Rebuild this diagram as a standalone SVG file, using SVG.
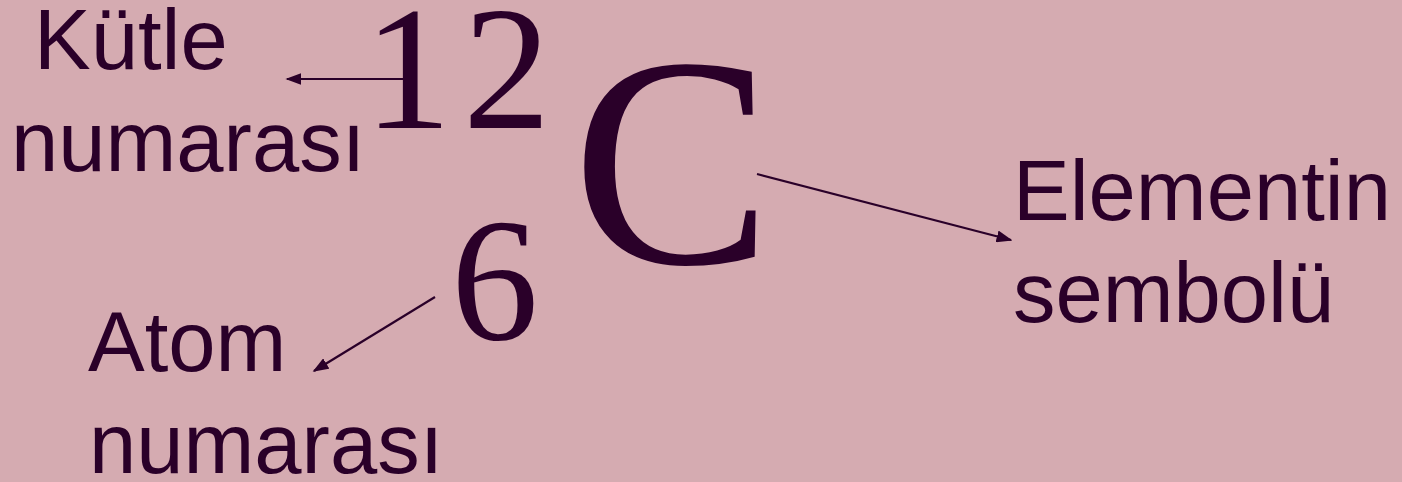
<svg xmlns="http://www.w3.org/2000/svg" width="1402" height="482" viewBox="0 0 1402 482">
  <style>
    .lbl { font-family: "Liberation Sans", Arial, sans-serif; font-size: 85px; fill: #2a0029; }
    .sym { font-family: "Liberation Serif", "Times New Roman", serif; fill: #2a0029; }
    .conn { stroke: #2a0029; stroke-width: 2.2; fill: none; marker-end: url(#ah); }
  </style>
  <defs>
    <marker id="ah" viewBox="0 0 10 10" refX="9" refY="5" markerWidth="16" markerHeight="12" markerUnits="userSpaceOnUse" orient="auto" preserveAspectRatio="none">
      <path d="M0,0 L10,5 L0,10 Z" fill="#2a0029"/>
    </marker>
  </defs>
  <rect width="1402" height="482" fill="#d5abb1"/>
  <g id="mass-label">
    <text class="lbl" x="34" y="69">Kütle</text>
    <text class="lbl" x="11" y="171">numarası</text>
  </g>
  <g id="mass-number">
    <text class="sym" x="364" y="128" font-size="175">1</text>
    <text class="sym" x="463" y="128" font-size="175">2</text>
  </g>
  <g id="symbol">
    <text class="sym" x="572" y="263" font-size="300">C</text>
  </g>
  <g id="atomic-number">
    <text class="sym" x="451" y="339" font-size="175">6</text>
  </g>
  <g id="atomic-label">
    <text class="lbl" x="88" y="371">Atom</text>
    <text class="lbl" x="89" y="473">numarası</text>
  </g>
  <g id="symbol-label">
    <text class="lbl" x="1013" y="220">Elementin</text>
    <text class="lbl" x="1013" y="322">sembolü</text>
  </g>
  <g id="connectors">
    <line class="conn" x1="404" y1="79" x2="287" y2="79"/>
    <line class="conn" x1="435" y1="297" x2="314" y2="371"/>
    <line class="conn" x1="757" y1="174" x2="1011" y2="240"/>
  </g>
</svg>
